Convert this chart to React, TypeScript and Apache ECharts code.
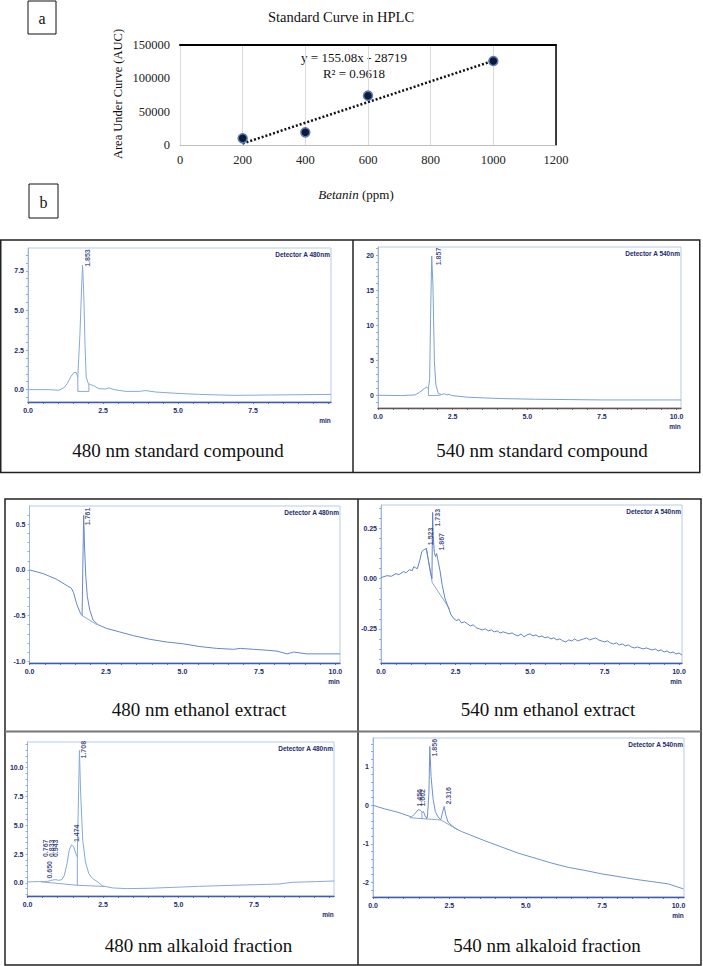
import React, { useEffect, useRef } from "react";
import * as echarts from "echarts";

// ---------- Panel a : standard curve ----------
const curveConc = [200, 400, 600, 1000];
const curveAuc = [10000, 19000, 74000, 126000];
const trendSlope = 155.08;
const trendIntercept = -28719;
const trendEnds = [200, 1000];
const curveXTicks = [0, 200, 400, 600, 800, 1000, 1200];
const curveYTicks = [0, 50000, 100000, 150000];

// ---------- Panel b : chromatograms (time in min, signal) ----------
const std480Trace: number[][] = [
  [0, 0], [0.69, 0], [1.03, -0.04], [1.19, 0.11], [1.31, 0.38], [1.42, 0.8], [1.53, 1.08], [1.61, 1.08],
  [1.66, 0.8], [1.73, 3.44], [1.79, 6.6], [1.82, 7.84], [1.86, 5.98], [1.9, 2.81], [1.94, 0.8], [2.01, 0.38],
  [2.09, 0.32], [2.2, 0.23], [2.37, 0.06], [2.59, 0.04], [2.7, 0.11], [2.87, 0], [3.26, -0.11], [3.71, -0.11],
  [3.93, -0.06], [4.26, -0.15], [4.93, -0.23], [5.71, -0.3], [6.83, -0.36], [7.95, -0.34], [9.06, -0.32], [10.1, -0.3],
];
const std480Base: number[][][] = [[[1.66, 0.8], [1.66, -0.11], [2.03, -0.11], [2.03, 0.36]]];
const std480Peaks: (number | string)[][] = [[1.98, 7.75, "1.853"]];

const std540Trace: number[][] = [
  [0, 0.05], [0.79, 0], [1.24, 0.1], [1.4, 0.5], [1.55, 1.0], [1.63, 1.2], [1.69, 1.0], [1.73, 2.4],
  [1.76, 11], [1.8, 19.9], [1.84, 15.8], [1.89, 4.8], [1.94, 1.5], [2.02, 0.3], [2.13, 0.15], [2.22, 0.25],
  [2.3, 0.1], [2.38, 0.2], [2.47, 0], [3.03, -0.24], [4.16, -0.43], [5.28, -0.52], [6.4, -0.57],
  [7.53, -0.62], [8.65, -0.62], [10.15, -0.62],
];
const std540Base: number[][][] = [[[1.69, 1.0], [1.69, 0.0], [2.1, 0.05]]];
const std540Peaks: (number | string)[][] = [[2.04, 18.6, "1.857"]];

const eth480Trace: number[][] = [
  [0, 0], [0.44, -0.04], [0.87, -0.1], [1.26, -0.18], [1.37, -0.2], [1.44, -0.25], [1.55, -0.38], [1.67, -0.48],
  [1.72, -0.5], [1.74, -0.04], [1.77, 0.6], [1.8, 0.25], [1.84, -0.07], [1.89, -0.29], [1.97, -0.44], [2.08, -0.55],
  [2.24, -0.6], [2.51, -0.64], [2.95, -0.68], [3.39, -0.72], [3.93, -0.76], [4.48, -0.79], [5.03, -0.81],
  [5.57, -0.84], [6.12, -0.86], [6.67, -0.87], [6.89, -0.86], [7.32, -0.87], [7.76, -0.88], [8.09, -0.89],
  [8.42, -0.92], [8.63, -0.9], [9.07, -0.92], [9.5, -0.92], [9.95, -0.92], [10.15, -0.92],
];
const eth480Base: number[][][] = [[[1.72, -0.5], [2.2, -0.6]]];
const eth480Peaks: (number | string)[][] = [[1.88, 0.49, "1.761"]];

const eth540Trace: number[][] = [
  [0, 0.005], [0.2, 0.015], [0.35, 0.012], [0.5, 0.025], [0.6, 0.02], [0.75, 0.035], [0.85, 0.03], [0.95, 0.045],
  [1.05, 0.04], [1.1, 0.06], [1.15, 0.055], [1.22, 0.05], [1.3, 0.09], [1.37, 0.135], [1.45, 0.145], [1.523, 0.15],
  [1.58, 0.1], [1.65, 0.04], [1.71, 0.0], [1.722, 0.2], [1.733, 0.33], [1.75, 0.22], [1.79, 0.13], [1.83, 0.11],
  [1.867, 0.125], [1.9, 0.1], [1.98, 0.04], [2.05, -0.03], [2.15, -0.1], [2.25, -0.14], [2.35, -0.18], [2.45, -0.2],
  [2.55, -0.21], [2.6, -0.2], [2.7, -0.22], [2.8, -0.215], [2.9, -0.225], [3.0, -0.235], [3.1, -0.23], [3.2, -0.245],
  [3.3, -0.25], [3.4, -0.255], [3.5, -0.25], [3.6, -0.26], [3.7, -0.255], [3.8, -0.265], [3.9, -0.26], [4.0, -0.27],
  [4.1, -0.265], [4.2, -0.27], [4.3, -0.275], [4.4, -0.27], [4.5, -0.28], [4.6, -0.285], [4.7, -0.275], [4.8, -0.29],
  [4.9, -0.28], [5.0, -0.275], [5.1, -0.285], [5.2, -0.28], [5.3, -0.29], [5.4, -0.285], [5.5, -0.295], [5.6, -0.29],
  [5.7, -0.3], [5.8, -0.295], [5.9, -0.305], [6.0, -0.3], [6.1, -0.31], [6.2, -0.315], [6.3, -0.305], [6.4, -0.31],
  [6.5, -0.3], [6.6, -0.31], [6.7, -0.305], [6.8, -0.3], [6.9, -0.295], [7.0, -0.305], [7.1, -0.3], [7.2, -0.295],
  [7.3, -0.305], [7.4, -0.31], [7.5, -0.315], [7.6, -0.31], [7.7, -0.32], [7.8, -0.325], [7.9, -0.32], [8.0, -0.33],
  [8.1, -0.325], [8.2, -0.335], [8.3, -0.33], [8.4, -0.34], [8.5, -0.345], [8.6, -0.34], [8.7, -0.345], [8.8, -0.35],
  [8.9, -0.345], [9.0, -0.35], [9.1, -0.355], [9.2, -0.35], [9.3, -0.36], [9.4, -0.355], [9.5, -0.365], [9.6, -0.36],
  [9.7, -0.37], [9.8, -0.365], [9.9, -0.375], [10.0, -0.37], [10.1, -0.38],
];
const eth540Base: number[][][] = [[[1.523, 0.15], [1.72, -0.02], [2.3, -0.15]]];
const eth540Peaks: (number | string)[][] = [[1.65, 0.167, "1.523"], [1.91, 0.26, "1.733"], [2.04, 0.14, "1.867"]];

const alk480Trace: number[][] = [
  [0, 0.09], [0.39, 0.12], [0.55, 0.12], [0.66, 0.14], [0.72, 0.17], [0.78, 0.23], [0.85, 0.26], [0.94, 0.29],
  [1.03, 0.23], [1.14, 0.29], [1.22, 0.66], [1.31, 1.68], [1.38, 2.83], [1.46, 3.32], [1.53, 3.12], [1.61, 2.49],
  [1.65, 2.25], [1.68, 6.3], [1.72, 11.5], [1.76, 7.75], [1.83, 3.7], [1.92, 1.82], [2.03, 0.81], [2.16, 0.38],
  [2.33, 0.09], [2.49, -0.26], [2.82, -0.43], [3.27, -0.49], [4.04, -0.46], [4.82, -0.38], [5.7, -0.29],
  [6.81, -0.2], [7.92, -0.12], [8.36, -0.09], [8.58, 0], [8.8, 0.06], [9.58, 0.12], [10.15, 0.17],
];
const alk480Base: number[][][] = [
  [[0.45, 0.1], [1.65, -0.2], [2.55, -0.3]],
  [[1.65, -0.2], [1.65, 2.25]],
];
const alk480Peaks: (number | string)[][] = [
  [0.72, 0.38, "0.650"], [0.61, 2.25, "0.767"], [0.78, 2.25, "0.833"], [0.92, 2.25, "0.943"],
  [1.63, 3.55, "1.474"], [1.85, 10.8, "1.708"],
];

const alk540Trace: number[][] = [
  [0, 0], [0.38, -0.09], [0.82, -0.18], [1.15, -0.27], [1.26, -0.3], [1.37, -0.22], [1.48, -0.11], [1.55, -0.13],
  [1.61, -0.18], [1.65, -0.16], [1.72, -0.3], [1.78, -0.32], [1.83, 0.32], [1.86, 1.53], [1.9, 0.75], [1.97, 0.15],
  [2.04, -0.16], [2.13, -0.3], [2.22, -0.37], [2.27, -0.2], [2.33, -0.03], [2.38, -0.24], [2.46, -0.44],
  [2.68, -0.59], [2.9, -0.68], [3.66, -0.92], [4.75, -1.24], [5.85, -1.5], [6.39, -1.61], [6.94, -1.69],
  [7.49, -1.78], [8.58, -1.92], [9.67, -2.04], [10.16, -2.17],
];
const alk540Base: number[][][] = [
  [[1.2, -0.32], [2.22, -0.38], [2.75, -0.62]],
  [[1.6, -0.35], [1.6, -0.18]],
  [[1.75, -0.36], [1.75, -0.3]],
];
const alk540Peaks: (number | string)[][] = [
  [1.53, -0.03, "1.456"], [1.62, -0.03, "1.602"], [2.0, 1.27, "1.856"], [2.46, 0.02, "2.316"],
];

const xLabelsShort = [0, 2.5, 5, 7.5];
const xLabelsLong = [0, 2.5, 5, 7.5, 10];
const std480YLabels = [0, 2.5, 5, 7.5];
const std540YLabels = [0, 5, 10, 15, 20];
const eth480YLabels = [-1, -0.5, 0, 0.5];
const eth540YLabels = [-0.25, 0, 0.25];
const alk480YLabels = [0, 2.5, 5, 7.5, 10];
const alk540YLabels = [-2, -1, 0, 1];

const chromData = [
  { trace: std480Trace, base: std480Base, peaks: std480Peaks, yLabels: std480YLabels, yDec: 1, yStep: 0.5, xLabels: xLabelsShort, detector: "Detector A 480nm", caption: "480 nm standard compound" },
  { trace: std540Trace, base: std540Base, peaks: std540Peaks, yLabels: std540YLabels, yDec: 0, yStep: 1, xLabels: xLabelsLong, detector: "Detector A 540nm", caption: "540 nm standard compound" },
  { trace: eth480Trace, base: eth480Base, peaks: eth480Peaks, yLabels: eth480YLabels, yDec: 1, yStep: 0.1, xLabels: xLabelsLong, detector: "Detector A 480nm", caption: "480 nm ethanol extract" },
  { trace: eth540Trace, base: eth540Base, peaks: eth540Peaks, yLabels: eth540YLabels, yDec: 2, yStep: 0.05, xLabels: xLabelsLong, detector: "Detector A 540nm", caption: "540 nm ethanol extract" },
  { trace: alk480Trace, base: alk480Base, peaks: alk480Peaks, yLabels: alk480YLabels, yDec: 1, yStep: 0.5, xLabels: xLabelsShort, detector: "Detector A 480nm", caption: "480 nm alkaloid fraction" },
  { trace: alk540Trace, base: alk540Base, peaks: alk540Peaks, yLabels: alk540YLabels, yDec: 0, yStep: 0.2, xLabels: xLabelsLong, detector: "Detector A 540nm", caption: "540 nm alkaloid fraction" },
];

// ---------- layout (positions / styles) ----------
const chromLayout = [
  { left: 28, top: 248, width: 303, height: 154, xMax: 10.1, yMin: -0.78, yMax: 8.94, capX: 178, capY: 450.5, axisColor: "#3d5cab", trace: "#86a9dc" },
  { left: 378, top: 247, width: 303, height: 161, xMax: 10.15, yMin: -1.77, yMax: 21.2, capX: 542, capY: 450.5, axisColor: "#6b5050", trace: "#7d9fd8" },
  { left: 29.5, top: 506, width: 310.5, height: 157, xMax: 10.15, yMin: -1.02, yMax: 0.7, capX: 199, capY: 709.5, axisColor: "#3d5cab", trace: "#6787c6" },
  { left: 381, top: 505, width: 301, height: 158, xMax: 10.1, yMin: -0.42, yMax: 0.367, capX: 548, capY: 709.5, axisColor: "#3d5cab", trace: "#6283c4" },
  { left: 27.5, top: 742, width: 306.5, height: 154, xMax: 10.15, yMin: -1.13, yMax: 12.23, capX: 198.5, capY: 945, axisColor: "#3d5cab", trace: "#86a9dc" },
  { left: 373, top: 738, width: 311, height: 159, xMax: 10.18, yMin: -2.38, yMax: 1.75, capX: 547, capY: 945, axisColor: "#3d5cab", trace: "#6f92cf" },
];

const SERIF = "Liberation Serif, Times New Roman, serif";
const SANS = "Liberation Sans, Arial, sans-serif";
const LABEL = "#1c2a6e";

function steps(a: number, b: number, s: number): number[] {
  const out: number[] = [];
  const n = Math.round((b - a) / s);
  for (let i = 0; i <= n; i++) out.push(+(a + i * s).toFixed(4));
  return out;
}

function txt(x: number, y: number, text: string, size: number, family: string, extra: any = {}) {
  const { align = "center", vAlign = "middle", fill = "#111", rotation = 0, rich, weight = "normal" } = extra;
  return {
    type: "text",
    x,
    y,
    rotation,
    silent: true,
    style: {
      text,
      fontSize: size,
      fontFamily: family,
      fontWeight: weight,
      fill,
      align,
      verticalAlign: vAlign,
      textAlign: align,
      textVerticalAlign: vAlign,
      ...(rich ? { rich } : {}),
    },
  };
}

function buildOption(): any {
  const grids: any[] = [];
  const xAxes: any[] = [];
  const yAxes: any[] = [];
  const series: any[] = [];
  const graphics: any[] = [];

  // ---- panel a ----
  grids.push({ left: 180, top: 45, width: 376, height: 100, containLabel: false });
  xAxes.push({
    gridIndex: 0, type: "value", min: 0, max: 1200, interval: 200,
    axisLine: { show: true, lineStyle: { color: "#bfbfbf", width: 1 } },
    axisTick: { show: false },
    axisLabel: { fontFamily: SERIF, fontSize: 12.5, color: "#222", margin: 8, customValues: curveXTicks, formatter: (v: number) => String(v) },
    splitLine: { show: true, lineStyle: { color: "#d9d9d9", width: 1 } },
  });
  xAxes.push({
    gridIndex: 0, type: "value", position: "top", min: 0, max: 1200,
    axisLine: { show: true, onZero: false, lineStyle: { color: "#000", width: 2 } },
    axisTick: { show: false }, axisLabel: { show: false }, splitLine: { show: false },
  });
  yAxes.push({
    gridIndex: 0, type: "value", min: 0, max: 150000, interval: 50000,
    axisLine: { show: false }, axisTick: { show: false },
    axisLabel: { fontFamily: SERIF, fontSize: 12.5, color: "#222", margin: 10, customValues: curveYTicks, formatter: (v: number) => String(v) },
    splitLine: { show: false },
  });
  yAxes.push({
    gridIndex: 0, type: "value", position: "right", min: 0, max: 150000,
    axisLine: { show: true, onZero: false, lineStyle: { color: "#000", width: 1.5 } },
    axisTick: { show: false }, axisLabel: { show: false }, splitLine: { show: false },
  });
  series.push({
    type: "line", xAxisIndex: 0, yAxisIndex: 0, z: 3, showSymbol: false, silent: true,
    data: trendEnds.map((x) => [x, trendSlope * x + trendIntercept]),
    lineStyle: { color: "#111", width: 2.5, type: [2, 2] },
  });
  series.push({
    type: "scatter", xAxisIndex: 0, yAxisIndex: 0, z: 5, symbolSize: 9, silent: true,
    data: curveConc.map((c, i) => [c, curveAuc[i]]),
    itemStyle: { color: "#0c1a3c", borderColor: "#5a7db6", borderWidth: 1.5, opacity: 1 },
  });

  graphics.push(txt(341, 17, "Standard Curve in HPLC", 14.5, SERIF));
  graphics.push(txt(354, 57, "y = 155.08x - 28719", 13, SERIF));
  graphics.push(txt(354, 73, "R\u00b2 = 0.9618", 13, SERIF));
  graphics.push(txt(118, 94, "Area Under Curve (AUC)", 12.5, SERIF, { rotation: Math.PI / 2 }));
  graphics.push(
    txt(356, 194, "{i|Betanin} (ppm)", 13, SERIF, {
      rich: { i: { fontStyle: "italic", fontFamily: SERIF, fontSize: 13, fill: "#111" } },
    })
  );
  graphics.push({ type: "rect", shape: { x: 28, y: 1, width: 28, height: 33 }, style: { fill: "none", stroke: "#111", lineWidth: 1 } });
  graphics.push(txt(42, 18, "a", 16, SERIF));
  graphics.push({ type: "rect", shape: { x: 29, y: 184, width: 29, height: 34 }, style: { fill: "none", stroke: "#111", lineWidth: 1 } });
  graphics.push(txt(43.5, 202, "b", 16, SERIF));

  // ---- frames ----
  graphics.push({ type: "rect", shape: { x: 0.75, y: 240, width: 699, height: 232.5 }, style: { fill: "none", stroke: "#222", lineWidth: 1.5 } });
  graphics.push({ type: "line", shape: { x1: 353, y1: 240, x2: 353, y2: 472.5 }, style: { stroke: "#222", lineWidth: 1.5 } });
  graphics.push({ type: "rect", shape: { x: 5, y: 499, width: 696, height: 466 }, style: { fill: "none", stroke: "#222", lineWidth: 1.5 } });
  graphics.push({ type: "line", shape: { x1: 358, y1: 499, x2: 358, y2: 965 }, style: { stroke: "#222", lineWidth: 1.5 } });
  graphics.push({ type: "line", shape: { x1: 5, y1: 731.5, x2: 701, y2: 731.5 }, style: { stroke: "#777", lineWidth: 2 } });

  // ---- chromatograms ----
  chromData.forEach((d, k) => {
    const L = chromLayout[k];
    const gi = grids.length;
    const xi = xAxes.length;
    const yi = yAxes.length;
    grids.push({ left: L.left, top: L.top, width: L.width, height: L.height, show: true, borderColor: "#b7cae8", borderWidth: 1, backgroundColor: "transparent" });
    xAxes.push({
      gridIndex: gi, type: "value", min: 0, max: L.xMax,
      axisLine: { show: true, onZero: false, lineStyle: { color: L.axisColor, width: 1.3 } },
      axisTick: { show: true, length: 2, lineStyle: { color: L.axisColor, width: 0.8 }, customValues: steps(0, Math.floor(L.xMax * 2) / 2, 0.5) },
      axisLabel: {
        fontFamily: SANS, fontSize: 7, fontWeight: "bold", color: LABEL, margin: 5,
        customValues: d.xLabels, formatter: (v: number) => v.toFixed(1),
      },
      splitLine: { show: false },
    });
    const tickLo = Math.ceil(L.yMin / d.yStep) * d.yStep;
    const tickHi = Math.floor(L.yMax / d.yStep) * d.yStep;
    yAxes.push({
      gridIndex: gi, type: "value", min: L.yMin, max: L.yMax,
      axisLine: { show: true, onZero: false, lineStyle: { color: "#9fb7df", width: 1 } },
      axisTick: { show: true, length: 2, lineStyle: { color: "#7d98c9", width: 0.8 }, customValues: steps(tickLo, tickHi, d.yStep) },
      axisLabel: {
        fontFamily: SANS, fontSize: 7, fontWeight: "bold", color: LABEL, margin: 4,
        customValues: d.yLabels, formatter: (v: number) => v.toFixed(d.yDec),
      },
      splitLine: { show: false },
    });
    series.push({
      type: "line", xAxisIndex: xi, yAxisIndex: yi, showSymbol: false, silent: true, clip: true, z: 3,
      data: d.trace, lineStyle: { color: L.trace, width: 1 },
    });
    d.base.forEach((seg) => {
      series.push({
        type: "line", xAxisIndex: xi, yAxisIndex: yi, showSymbol: false, silent: true, clip: true, z: 2,
        data: seg, lineStyle: { color: "#6f8fc6", width: 0.8 },
      });
    });
    series.push({
      type: "scatter", xAxisIndex: xi, yAxisIndex: yi, symbolSize: 1, silent: true, z: 4,
      itemStyle: { color: "rgba(0,0,0,0)" },
      data: d.peaks,
      label: {
        show: true, position: "inside", rotate: 90, align: "left", verticalAlign: "middle",
        fontFamily: SANS, fontSize: 7, fontWeight: "bold", color: LABEL,
        formatter: (p: any) => p.data[2],
      },
    });
    graphics.push(txt(L.left + L.width - 1, L.top + 6, d.detector, 6.5, SANS, { align: "right", fill: LABEL, weight: "bold" }));
    graphics.push(txt(L.left + L.width - 6, L.top + L.height + 18, "min", 6.5, SANS, { fill: LABEL, weight: "bold" }));
    graphics.push(txt(L.capX, L.capY, d.caption, 19, SERIF));
  });

  return {
    animation: false,
    backgroundColor: "#fff",
    grid: grids,
    xAxis: xAxes,
    yAxis: yAxes,
    series,
    graphic: graphics,
  };
}

export default function App() {
  const ref = useRef<HTMLDivElement>(null);
  useEffect(() => {
    if (!ref.current) return;
    const chart = echarts.init(ref.current, null, { renderer: "svg" });
    chart.setOption(buildOption());
    return () => chart.dispose();
  }, []);
  return (
    <div
      ref={ref}
      style={{ position: "absolute", left: 0, top: 0, width: 703, height: 966, background: "#fff" }}
    />
  );
}
